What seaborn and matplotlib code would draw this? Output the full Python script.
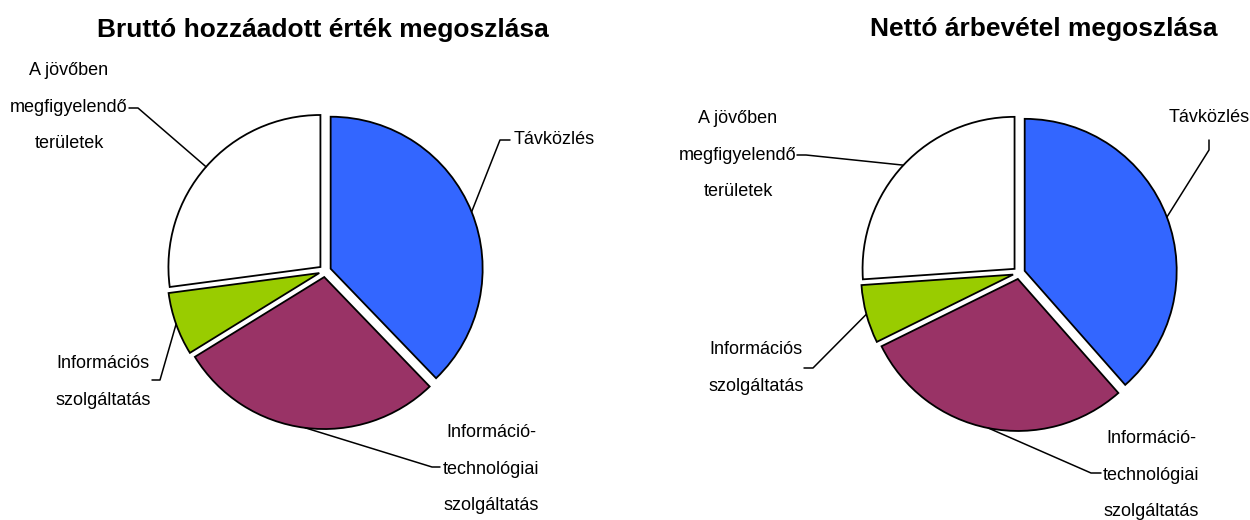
import numpy as np
import matplotlib
matplotlib.use("Agg")
import matplotlib.pyplot as plt
import seaborn as sns

# shares (percent), clockwise from 12 o'clock
categories = ["Távközlés", "Információ-\ntechnológiai\nszolgáltatás",
              "Információs\nszolgáltatás", "A jövőben\nmegfigyelendő\nterületek"]
brutto = [37.8, 28.4, 6.7, 27.1]
netto = [38.5, 29.2, 6.2, 26.1]
titles = ["Bruttó hozzáadott érték megoszlása", "Nettó árbevétel megoszlása"]
colors = ["#3366FF", "#993366", "#99CC00", "#FFFFFF"]

sns.set_theme(style="white")
plt.rcParams["font.family"] = ["Liberation Sans Narrow", "Liberation Sans", "DejaVu Sans"]
plt.rcParams["text.color"] = "black"

W, H, R = 1250, 520, 152
fig = plt.figure(figsize=(12.5, 5.2), dpi=100)

# per panel: axes x-range (px), pie centre (px), title pos, label layout
panels = [
    dict(x0=0, cx=325, cy=271, title=(323, 30), values=brutto,
         labels=[  # text centre, ha, stub end, elbow
             ((514, 140), "left", (510, 140), (500, 140)),
             ((491, 469), "center", (440, 467), (432, 467)),
             ((103, 382), "center", (152, 380), (160, 380)),
             ((69, 107), "center", (129, 108), (138, 108)),
         ]),
    dict(x0=625, cx=1019, cy=273, title=(1044, 29), values=netto,
         labels=[
             ((1209, 117), "center", (1209, 140), (1209, 150)),
             ((1151, 475), "center", (1101, 473), (1091, 473)),
             ((756, 368), "center", (804, 368), (813, 368)),
             ((738, 155), "center", (797, 155), (806, 155)),
         ]),
]

for i, p in enumerate(panels):
    ax = fig.add_axes([p["x0"] / W, 0, 625 / W, 1])
    cx, cy = p["cx"], p["cy"]

    def d(x, y):
        return ((x - cx) / R, (cy - y) / R)

    wedges, _ = ax.pie(p["values"], colors=colors, startangle=90, counterclock=False,
                       explode=[0.04] * 4, radius=1.0,
                       wedgeprops=dict(edgecolor="black", linewidth=1.3))
    ax.set_xlim(-(cx - p["x0"]) / R, (p["x0"] + 625 - cx) / R)
    ax.set_ylim(-(H - cy) / R, cy / R)
    ax.set_aspect("equal", adjustable="box")
    ax.axis("off")

    tx, ty = d(*p["title"])
    ax.text(tx, ty, titles[i], ha="center", va="center",
            fontsize=19, fontweight="bold", family=["Liberation Sans", "DejaVu Sans"])

    for w, lab, (tpos, ha, stub, elbow) in zip(wedges, categories, p["labels"]):
        th = np.deg2rad((w.theta1 + w.theta2) / 2)
        ax0 = w.center[0] + w.r * np.cos(th)
        ay0 = w.center[1] + w.r * np.sin(th)
        sx, sy = d(*stub)
        ex, ey = d(*elbow)
        ax.plot([ax0, ex, sx], [ay0, ey, sy], color="black", lw=1.1, clip_on=False)
        lx, ly = d(*tpos)
        ax.text(lx, ly, lab, ha=ha, va="center", multialignment="center",
                fontsize=13, linespacing=2.5)

fig.savefig("out.png", dpi=100)
